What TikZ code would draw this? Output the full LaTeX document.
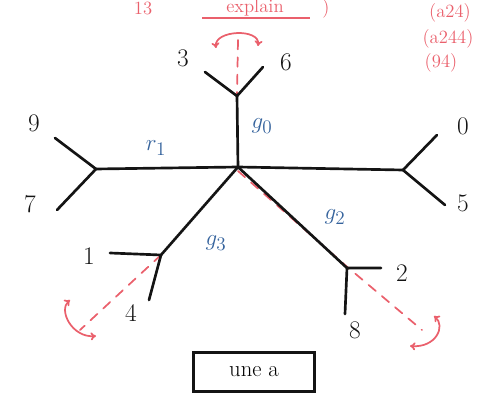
\documentclass[tikz,border=0pt]{standalone}
\usepackage{amsmath,amssymb}
\usepackage{tikz}
\usetikzlibrary{arrows.meta}

\definecolor{pen}{RGB}{20,20,20}
\definecolor{redpen}{RGB}{234,96,108}
\definecolor{bluepen}{RGB}{52,98,156}

\tikzset{
  edge/.style={pen,line width=2pt,line cap=round,line join=round},
  leaf/.style={font=\fontsize{19}{22}\selectfont,text=pen},
  wlabel/.style={font=\fontsize{19}{22}\selectfont,text=bluepen},
  mark red/.style={redpen,line width=1.3pt,dash pattern=on 7pt off 6pt,line cap=round},
  twist/.style={redpen,line width=1.3pt,line cap=round,{To[length=4pt,width=6pt]}-{To[length=4pt,width=6pt]}},
  note/.style={font=\fontsize{14}{16}\selectfont,text=redpen},
}

\begin{document}
\begin{tikzpicture}[x=0.75pt,y=-0.75pt]
 \path[use as bounding box] (0,0) rectangle (490,402);
 % inner vertices
 \coordinate (c) at (238,167);
 \coordinate (u) at (237,96);
 \coordinate (l) at (96,169);
 \coordinate (r) at (403,170);
 \coordinate (dl) at (161,255);
 \coordinate (dr) at (347,268);
 % leaves
 \coordinate (e3) at (205,72);
 \coordinate (e6) at (263,67);
 \coordinate (e9) at (55,138);
 \coordinate (e7) at (57,210);
 \coordinate (e0) at (437,135);
 \coordinate (e5) at (445,205);
 \coordinate (e1) at (110,253);
 \coordinate (e4) at (149,300);
 \coordinate (e2) at (381,268);
 \coordinate (e8) at (345,314);

 % red marks (behind the tree)
 \coordinate (rt) at (238,40);
 \coordinate (rl) at (80,330);
 \coordinate (rr) at (422,330);
 \draw[mark red] (rt) -- (u);
 \draw[mark red] ([yshift=-3]c) -- ([shift={(-2,-3)}]dr) -- (rr);
 \draw[mark red] (dl) -- (rl);
 \draw[twist] (216,48) .. controls (214,30) and (260,28) .. (258,46);
 \draw[twist] (70,300) .. controls (58,310) and (72,338) .. (96,336);
 \draw[twist] (434,316) .. controls (446,326) and (436,348) .. (410,346);

 % the tree
 \draw[edge] (c) -- (u);
 \draw[edge] (e3) -- (u) -- (e6);
 \draw[edge] (c) -- (l);
 \draw[edge] (e9) -- (l) -- (e7);
 \draw[edge] (c) -- (r);
 \draw[edge] (e0) -- (r) -- (e5);
 \draw[edge] (c) -- (dl);
 \draw[edge] (e1) -- (dl) -- (e4);
 \draw[edge] (c) -- (dr);
 \draw[edge] (e2) -- (dr) -- (e8);

 % leaf labels
 \node[leaf] (n3) at (183,58) {3};
 \node[leaf] (n6) at (286,62) {6};
 \node[leaf] (n9) at (34,123) {9};
 \node[leaf] (n7) at (30,204) {7};
 \node[leaf] (n0) at (463,126) {0};
 \node[leaf] (n5) at (463,203) {5};
 \node[leaf] (n1) at (89,256) {1};
 \node[leaf] (n4) at (131,313) {4};
 \node[leaf] (n2) at (402,273) {2};
 \node[leaf] (n8) at (355,330) {8};

 % edge labels
 \node[wlabel] (w0) at (262,126) {$g_0$};
 \node[wlabel] (w1) at (156,148) {$r_1$};
 \node[wlabel] (w3) at (216,243) {$g_3$};
 \node[wlabel] (w2) at (335,217) {$g_2$};

 % box
 \node[draw=pen,line width=2pt,minimum width=91pt,minimum height=29pt,
   font=\fontsize{17}{20}\selectfont] (tag) at (254,372) {une a};

 % red notes along the top
 \node[note,anchor=base] (top) at (255,13) {explain};
 \draw[redpen,line width=1.3pt] (202,18) -- (310,18);
 \node[note,anchor=base] (par) at (326,14) {)};
 \node[note,anchor=base] (num) at (143,15) {13};
 \node[note] (rt1) at (450,13) {(a24)};
 \node[note] (rt2) at (448,39) {(a244)};
 \node[note] (rt3) at (441,63) {(94)};
\end{tikzpicture}
\end{document}
